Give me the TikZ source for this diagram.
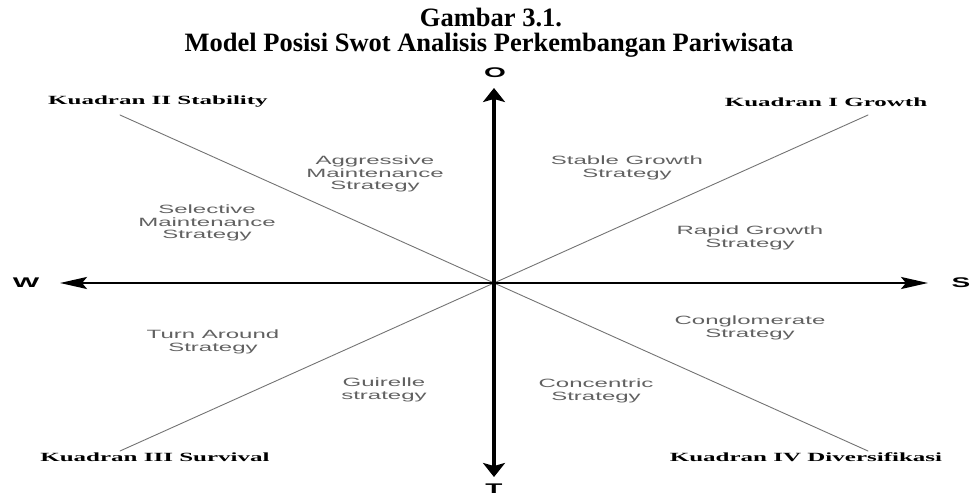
\documentclass[tikz,border=0pt]{standalone}
\usepackage{fontspec}
\setmainfont{Liberation Serif}
\newfontfamily\stratfont[FakeStretch=2]{Liberation Sans}
\newfontfamily\kuadfont[FakeStretch=2]{Liberation Serif Bold}
\newfontfamily\axisfont[FakeStretch=2]{Liberation Sans Bold}
\usetikzlibrary{arrows.meta}
\begin{document}
\begin{tikzpicture}[x=1pt,y=1pt,line cap=round,line join=round,
  strat/.style={align=center,text=black!62,inner sep=0pt,
    font=\stratfont\fontsize{12}{12.5}\selectfont},
  kuad/.style={inner sep=0pt,font=\kuadfont\fontsize{12.5}{14}\selectfont},
  axlab/.style={inner sep=0pt,font=\axisfont\fontsize{14}{16}\selectfont},
  diag/.style={black!55,line width=.9pt},
  hax/.style={line width=2.5pt,{Stealth[length=27pt,width=12pt,inset=5pt]}-{Stealth[length=27pt,width=12pt,inset=5pt]}},
  vax/.style={line width=4pt,{Stealth[length=14pt,width=22pt,inset=3pt]}-{Stealth[length=14pt,width=22pt,inset=3pt]}}]
  \def\strat#1#2#3{\node[strat] (#1) at (#2) {#3};}
  \useasboundingbox (-494,-214) rectangle (479,283);
  \node[anchor=base,font=\bfseries\fontsize{26.5}{30}\selectfont] (gb) at (-3,256) {Gambar 3.1.};
  \node[anchor=base,font=\bfseries\fontsize{26.5}{30}\selectfont] (judul) at (-5,231)
    {Model Posisi Swot Analisis Perkembangan Pariwisata};
  \coordinate (c) at (0,0);
  \coordinate (k1) at (374,168);
  \coordinate (k2) at (-374,168);
  \coordinate (k3) at (-374,-168);
  \coordinate (k4) at (374,-168);
  \draw[diag] (k2) -- (c) -- (k4);
  \draw[diag] (k1) -- (c) -- (k3);
  \coordinate (wt) at (-434,0);
  \coordinate (st) at (434,0);
  \coordinate (ot) at (0,195);
  \coordinate (tt) at (0,-194);
  \draw[hax] (wt) -- (st);
  \draw[vax] (tt) -- (ot);
  \node[axlab] (w) at (-468,0) {W};
  \node[axlab] (s) at (467,0) {S};
  \node[axlab] (o) at (1,210) {O};
  \node[axlab,anchor=north] (t) at (0,-200.5) {T};
  \node[kuad] (kII) at (-336,181) {Kuadran II Stability};
  \node[kuad] (kI) at (332,181) {Kuadran I Growth};
  \node[kuad] (kIII) at (-339,-174) {Kuadran III Survival};
  \node[kuad] (kIV) at (312,-174) {Kuadran IV Diversifikasi};
  \strat{agr}{-119,109}{Aggressive\\Maintenance\\Strategy}
  \strat{sel}{-287,60}{Selective\\Maintenance\\Strategy}
  \strat{stb}{133,115}{Stable Growth\\Strategy}
  \strat{rap}{256,45}{Rapid Growth\\Strategy}
  \strat{tur}{-281,-59}{Turn Around\\Strategy}
  \strat{gui}{-110,-107}{Guirelle\\strategy}
  \strat{con}{256,-45}{Conglomerate\\Strategy}
  \strat{cct}{102,-108}{Concentric\\Strategy}
\end{tikzpicture}
\end{document}
